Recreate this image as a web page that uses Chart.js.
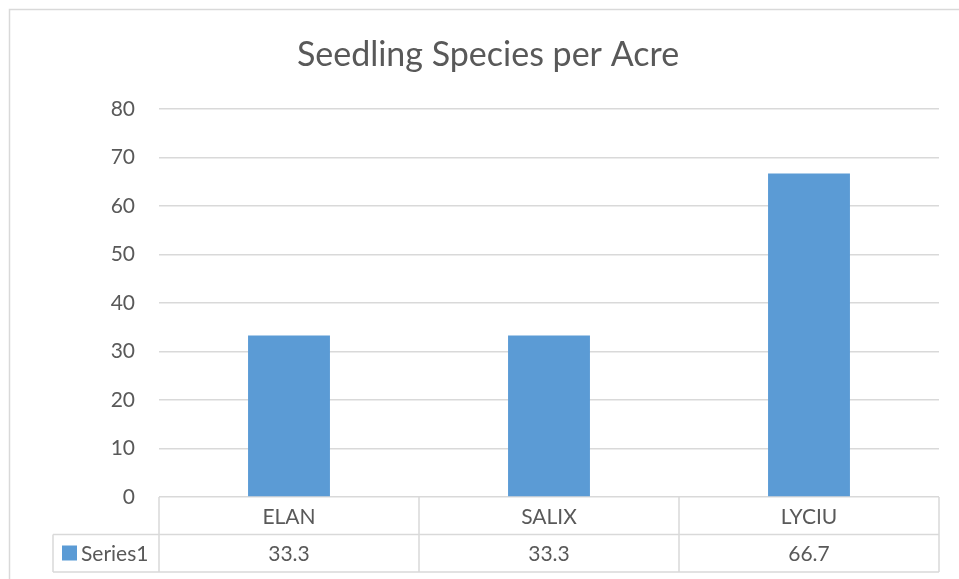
<!DOCTYPE html>
<html>
<head>
<meta charset="utf-8">
<script src="https://cdn.jsdelivr.net/npm/chart.js@4"></script>
<style>
  html, body { margin: 0; padding: 0; background: #fff; overflow: hidden; }
  #wrap { width: 959px; height: 579px; position: relative; }
</style>
</head>
<body>
<div id="wrap"><canvas id="chart"></canvas></div>
<script>
// chart data
var chartTitle = "Seedling Species per Acre"
var species = ["ELAN", "SALIX", "LYCIU"]
var seriesName = "Series1"
var perAcre = [33.3, 33.3, 66.7]
var tableValues = ["33.3", "33.3", "66.7"]

var txtColor = "#595959"
var lineColor = "#d9d9d9"
var barColor = "#5b9bd5"
var fontName = "Lato, 'Open Sans', sans-serif"

// border, title, and the data table under the bars
var tablePlugin = {
  id: "dataTable",
  beforeDraw: function(chart) {
    var ctx = chart.ctx
    ctx.save()
    ctx.strokeStyle = lineColor
    ctx.lineWidth = 1.5
    ctx.strokeRect(9.5, 9.5, 1000, 1000)
    ctx.fillStyle = txtColor
    ctx.font = "34px " + fontName
    ctx.textAlign = "center"
    ctx.textBaseline = "middle"
    ctx.fillText(chartTitle, 488, 55)
    ctx.restore()
  },
  afterDraw: function(chart) {
    var ctx = chart.ctx
    var area = chart.chartArea
    var xs = chart.scales.x
    var top = area.bottom
    var rowH = 37.5
    var colW = area.width / species.length
    var legLeft = 53

    ctx.save()
    ctx.strokeStyle = lineColor
    ctx.lineWidth = 1.5
    ctx.beginPath()
    // horizontal lines
    ctx.moveTo(legLeft, top + rowH)
    ctx.lineTo(area.right, top + rowH)
    ctx.moveTo(legLeft, top + 2 * rowH)
    ctx.lineTo(area.right, top + 2 * rowH)
    // vertical lines
    for (var i = 0; i <= species.length; i++) {
      var x = area.left + i * colW
      ctx.moveTo(x, top)
      ctx.lineTo(x, top + 2 * rowH)
    }
    ctx.moveTo(legLeft, top + rowH)
    ctx.lineTo(legLeft, top + 2 * rowH)
    ctx.stroke()

    ctx.fillStyle = txtColor
    ctx.font = "21px " + fontName
    ctx.textAlign = "center"
    ctx.textBaseline = "middle"
    species.forEach(function(s, i) {
      var cx = xs.getPixelForValue(i)
      ctx.fillText(s, cx, top + rowH / 2 + 1)
      ctx.fillText(tableValues[i], cx, top + rowH * 1.5 + 1)
    })

    // legend key
    ctx.fillStyle = barColor
    ctx.fillRect(62, top + rowH + 11, 15, 15)
    ctx.fillStyle = txtColor
    ctx.textAlign = "left"
    ctx.fillText(seriesName, 81, top + rowH * 1.5 + 1)
    ctx.restore()
  }
}

new Chart(document.getElementById("chart"), {
  type: "bar",
  data: {
    labels: species,
    datasets: [{
      label: seriesName,
      data: perAcre,
      backgroundColor: barColor,
      barPercentage: 0.315,
      categoryPercentage: 1
    }]
  },
  options: {
    responsive: true,
    maintainAspectRatio: false,
    animation: false,
    layout: { padding: { left: 0, right: 20, top: 109, bottom: 82 } },
    plugins: {
      legend: { display: false },
      tooltip: { enabled: false },
      title: { display: false }
    },
    scales: {
      x: {
        display: false
      },
      y: {
        min: 0,
        max: 80,
        ticks: {
          stepSize: 10,
          color: txtColor,
          padding: 24,
          font: { family: fontName, size: 21 }
        },
        border: { display: false },
        grid: { color: lineColor, lineWidth: 1.5, drawTicks: false },
        afterFit: function(scale) { scale.width = 159 }
      }
    }
  },
  plugins: [tablePlugin]
})
</script>
</body>
</html>
